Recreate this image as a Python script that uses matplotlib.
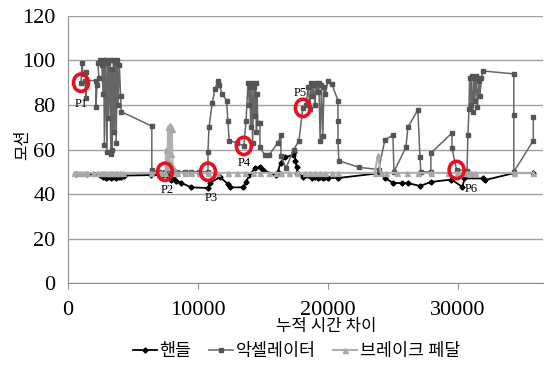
import matplotlib
matplotlib.use("Agg")
import matplotlib.pyplot as plt
from matplotlib.patches import Ellipse

plt.rcParams['font.family'] = ['Liberation Serif', 'Noto Sans CJK KR']

# 핸들 (steering)
handle_x = [600, 1500, 2500, 2700, 2900, 3100, 3300, 3500, 3700, 3900, 4100, 4300, 6400, 7300,
            7700, 7900, 8100, 8300, 8700, 9500, 10770, 10900, 11700, 12300, 12450, 13500, 13700,
            13950, 14400, 14800, 15000, 16000, 16150, 16350, 16700, 17300, 17400, 17500, 17600,
            17650, 18100, 18800, 19000, 19200, 19400, 19600, 19800, 20000, 20800, 24000, 24400,
            25000, 25700, 26150, 27100, 27900, 29500, 30350, 30500, 31900, 32100, 34300, 35800]
handle_y = [48.8, 48.8, 48.5, 47.5, 47.3, 47.5, 47.3, 47.5, 47.3, 47.5, 47.8, 48.3, 48.5, 48.5,
            48, 46.5, 47.5, 46, 45, 43, 42.7, 45, 47.6, 44.5, 43, 43, 45.4,
            48.5, 51.7, 52, 50.8, 48.5, 50, 54, 56.6, 57.5, 59, 55, 52,
            49.4, 47.6, 47.2, 47.6, 47.2, 47.6, 47.2, 47.6, 47.2, 47.2, 49.4, 47.2,
            45, 44.9, 44.9, 43.6, 45.4, 46.5, 43.2, 47, 47, 46.3, 49.4, 49.4]

# 악셀레이터 (accelerator)
accel_x = [1000, 1080, 1150, 1380, 1380, 1300, 2150, 2150, 2230, 2380, 2300,
           2500, 2600, 2700, 2750, 2800, 2900, 3000, 3050, 3100, 3200, 3300, 3350, 3400, 3500,
           3550, 3650, 3700, 3800, 3850, 3950, 4050, 4100, 6450, 6450, 6500, 7000, 7460, 7900,
           8400, 9000, 9500, 10100, 10770, 10770, 10850, 11100, 11300, 11550, 11650, 11850,
           12200, 12300, 12400, 13000, 13530, 13700, 13850, 13950, 14000, 14050, 14150, 14200,
           14300, 14350, 14450, 14500, 14550, 14600, 14770, 14770, 15150, 15460, 16150, 16380,
           16380, 16770, 17380, 17770, 18070, 18300, 18500, 18600, 18700, 18800, 18900, 19000,
           19100, 19200, 19300, 19400, 19500, 19600, 19700, 19800, 20000, 20300, 20770, 20770,
           20770, 20840, 22380, 23900, 24380, 25000, 25080, 26000, 26150, 26920, 27080, 27150,
           27920, 27920, 29540, 29540, 29900, 30700, 30770, 30850, 30900, 31000, 31050, 31150,
           31250, 31300, 31400, 31500, 31600, 31700, 31800, 31920, 34300, 34300, 34300, 35800,
           35800]
accel_y = [90, 99, 94, 95, 83, 91, 91, 79, 89, 92, 99,
           100, 98, 85, 100, 62, 100, 59, 99, 74, 100, 58, 96, 60, 100,
           68, 99, 63, 100, 80, 98, 84, 77, 70.5, 51, 50, 50, 50, 50,
           50, 50, 50, 50, 50, 59, 70, 81, 87, 91, 89, 85,
           82, 73, 64, 63, 61.6, 73, 90, 80, 88, 70, 90, 63,
           88, 75, 90, 68, 85, 72, 72, 61, 57.5, 57.5, 63, 66.5,
           57, 51.7, 60, 64, 78.7, 80, 88, 78, 90, 84, 89, 80,
           90, 86, 90, 64, 89, 66, 88, 85, 91, 89.5, 82, 73,
           64, 55, 52, 51, 64.3, 66.5, 50, 61, 70, 77.8, 56.6, 50,
           50, 58.4, 67.4, 60.7, 50.8, 50.5, 66.5, 78, 92, 80, 93, 77,
           92, 82, 93, 79, 91, 84, 92, 95.3, 94, 75.5, 50, 64,
           74.6]

# 브레이크 페달 (brake pedal)
brake_x = [500, 800, 1000, 1200, 1500, 1900, 2300, 2600, 2800, 3000, 3200, 3400, 3600, 3800,
           4000, 4200, 6400, 7100, 7500, 7550, 7650, 7700, 7780, 7850, 7900, 7980, 8050, 8150,
           8400, 9000, 9500, 10100, 10770, 11500, 12300, 13000, 13600, 14200, 14800, 15500,
           16000, 16400, 17000, 17600, 18200, 18600, 19000, 19400, 19800, 20300, 20800, 23600,
           23850, 24050, 24500, 25300, 26100, 26900, 27900, 29200, 29900, 30400, 30700, 31000,
           31300, 34300, 35800]
brake_y = [49.5, 49.5, 49.5, 49.5, 49.5, 49.5, 49.5, 49.5, 49.5, 49.5, 49.5, 49.5, 49.5, 49.5,
           49.5, 49.5, 49.5, 49.5, 49.5, 60, 52, 70, 55, 71, 58, 69, 52, 49.5,
           49.5, 49.5, 49.5, 49.5, 49.5, 49.5, 49.5, 49.5, 49.5, 49.5, 49.5, 49.5,
           49.5, 49.5, 49.5, 49.5, 49.5, 49.5, 49.5, 49.5, 49.5, 49.5, 49.5, 49.5,
           57.5, 49.5, 49.5, 49.5, 49.5, 49.5, 49.5, 49.5, 49.5, 49.5, 49.5, 49.5,
           49.5, 49.5, 49.5]

# marked points P1..P6
point_names = ['P1', 'P2', 'P3', 'P4', 'P5', 'P6']
point_x = [1000, 7460, 10770, 13530, 18070, 29900]
point_y = [90, 50, 50, 61.6, 78.7, 50.8]
label_x = [1000, 7600, 11000, 13530, 17900, 31000]
label_y = [80.5, 41.8, 38.2, 54, 85.4, 42.2]

fig = plt.figure(figsize=(5.44, 3.71), dpi=100)
ax = fig.add_axes([0.125, 0.237, 0.873, 0.72])

ax.plot(handle_x, handle_y, color='black', lw=1.3, marker='D', ms=2.6, label='핸들', zorder=3)
ax.plot(accel_x, accel_y, color='#666666', lw=1.1, marker='s', ms=3.4,
        mfc='#555555', mec='#555555', label='악셀레이터', zorder=4)
ax.plot(brake_x, brake_y, color='#b0b0b0', lw=1.5, marker='^', ms=3.6,
        mfc='#a8a8a8', mec='#a8a8a8', label='브레이크 페달', zorder=5)

for name, px, py, lx, ly in zip(point_names, point_x, point_y, label_x, label_y):
    ax.add_patch(Ellipse((px, py), 1150, 7.8, fill=False, ec='#e81020', lw=2.6, zorder=6))
    ax.text(lx, ly, name, fontsize=9, ha='center', va='center', zorder=7)

ax.set_xlim(0, 36540)
ax.set_ylim(0, 120)
ax.set_yticks(range(0, 121, 20))
ax.set_xticks([0, 10000, 20000, 30000])
ax.grid(axis='y', color='#a0a0a0', lw=1)
ax.set_axisbelow(True)
for s in ['top', 'right']:
    ax.spines[s].set_visible(False)
ax.spines['left'].set_color('#909090')
ax.spines['bottom'].set_color('#909090')
ax.tick_params(axis='y', length=0, pad=9, labelsize=16)
ax.tick_params(axis='x', length=4, color='#909090', pad=9, labelsize=16)

ax.set_xlabel('누적 시간 차이', fontsize=12, va='center')
ax.xaxis.set_label_coords(0.543, -0.165)
ax.set_ylabel('모션', fontsize=12, va='center')
ax.yaxis.set_label_coords(-0.095, 0.52)

fig.legend(loc='center', bbox_to_anchor=(0.545, 0.051), ncol=3, frameon=False,
           fontsize=12.5, handlelength=1.4, handletextpad=0.15, columnspacing=1.0,
           borderaxespad=0)

fig.savefig('out.png', dpi=100)
